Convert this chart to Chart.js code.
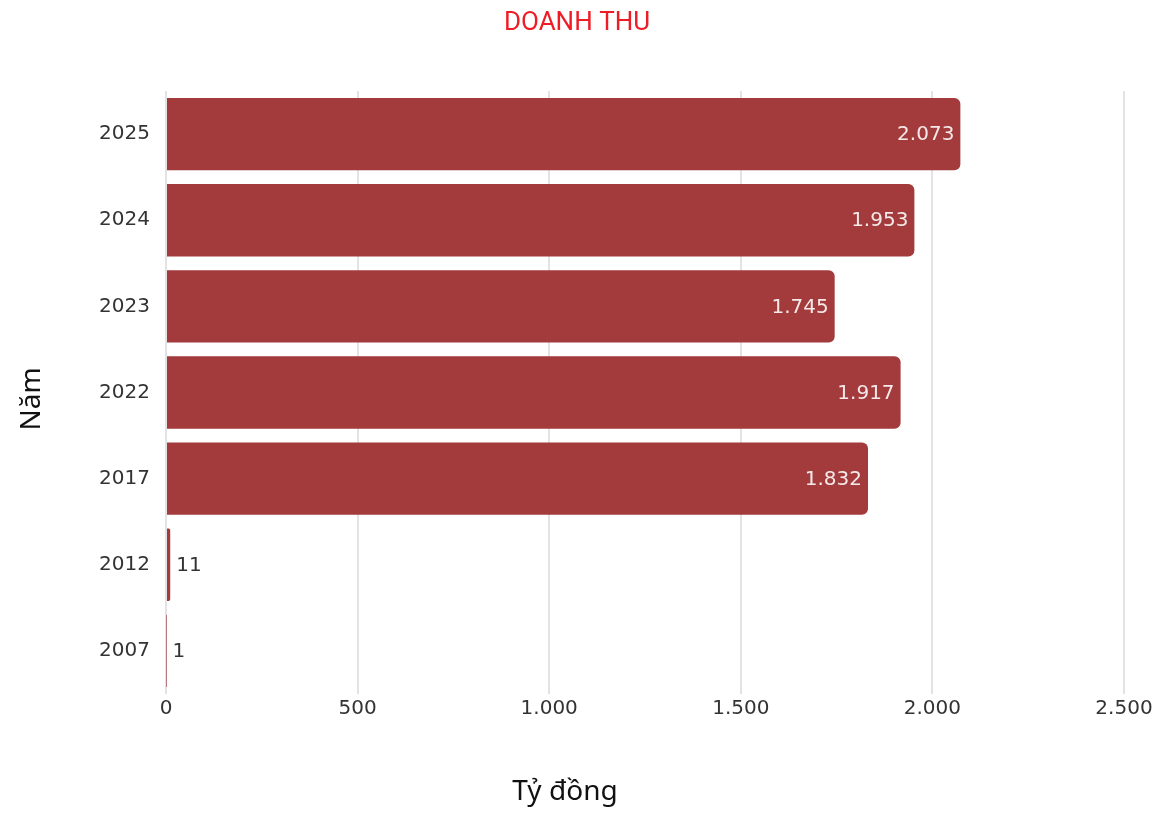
<!DOCTYPE html>
<html>
<head>
<meta charset="utf-8">
<script src="https://cdn.jsdelivr.net/npm/chart.js@4"></script>
<style>
  html, body { margin: 0; padding: 0; background: #fff; }
</style>
</head>
<body>
<canvas id="doanhthu" width="1158" height="815"></canvas>
<script>
var tieuDe = 'DOANH THU'
var tenTrucX = 'Tỷ đồng'
var tenTrucY = 'Năm'
var nam = ['2025', '2024', '2023', '2022', '2017', '2012', '2007']
var doanhThu = [2073, 1953, 1745, 1917, 1832, 11, 1]
var xTicks = [0, 500, 1000, 1500, 2000, 2500]

function fmt(v)
{
    return String(v).replace(/\B(?=(\d{3})+(?!\d))/g, '.')
}

// nhan gia tri o dau thanh + tieu de, ten truc
var nhanPlugin = {
    id: 'nhan',
    afterDatasetsDraw: function(chart)
    {
        var ctx = chart.ctx
        var meta = chart.getDatasetMeta(0)
        ctx.save()
        ctx.font = '20px "DejaVu Sans", sans-serif'
        ctx.textBaseline = 'middle'
        meta.data.forEach(function(bar, i)
        {
            var v = doanhThu[i]
            var txt = fmt(v)
            if (v > 200) {
                ctx.fillStyle = '#f5e9e9'
                ctx.textAlign = 'right'
                ctx.fillText(txt, bar.x - 6, bar.y + 1)
            } else {
                ctx.fillStyle = '#333'
                ctx.textAlign = 'left'
                ctx.fillText(txt, bar.x + 6, bar.y + 1)
            }
        })

        ctx.textAlign = 'center'
        ctx.fillStyle = '#ee1c25'
        ctx.font = '26px Roboto'
        ctx.fillText(tieuDe, 577, 23)

        ctx.fillStyle = '#111'
        ctx.font = '28px "Noto Sans"'
        ctx.fillText(tenTrucX, 565, 792)

        ctx.translate(32, 399)
        ctx.rotate(-Math.PI / 2)
        ctx.fillText(tenTrucY, 0, 0)
        ctx.restore()
    }
}

var ctx = document.getElementById('doanhthu')
var mychart = new Chart(ctx,
    {
        type: 'bar',
        data:
            {
                labels: nam,
                datasets:
                    [{
                        data: doanhThu,
                        backgroundColor: '#a33b3c',
                        borderRadius: 6,
                        borderSkipped: 'start',
                        categoryPercentage: 0.84,
                        barPercentage: 1
                    }]
            },
        plugins: [nhanPlugin],
        options:
            {
                indexAxis: 'y',
                responsive: false,
                animation: false,
                layout: { padding: { top: 91, right: 34, bottom: 0, left: 0 } },
                plugins:
                    {
                        legend: { display: false },
                        tooltip: { enabled: false },
                        title: { display: false }
                    },
                scales:
                    {
                        x:
                            {
                                min: 0,
                                max: 2500,
                                afterBuildTicks: function(axis)
                                {
                                    axis.ticks = xTicks.map(function(v) { return { value: v } })
                                },
                                afterFit: function(axis) { axis.height = 121 },
                                ticks:
                                    {
                                        color: '#333',
                                        font: { family: '"DejaVu Sans"', size: 20 },
                                        padding: 3,
                                        maxRotation: 0,
                                        callback: function(v) { return fmt(v) }
                                    },
                                grid: { color: '#e3e3e3', lineWidth: 2, drawTicks: false },
                                border: { display: false }
                            },
                        y:
                            {
                                afterFit: function(axis) { axis.width = 166 },
                                ticks:
                                    {
                                        color: '#333',
                                        font: { family: '"DejaVu Sans"', size: 20 },
                                        padding: 16
                                    },
                                grid: { display: false, drawTicks: false },
                                border: { display: false }
                            }
                    }
            }
    })
</script>
</body>
</html>
